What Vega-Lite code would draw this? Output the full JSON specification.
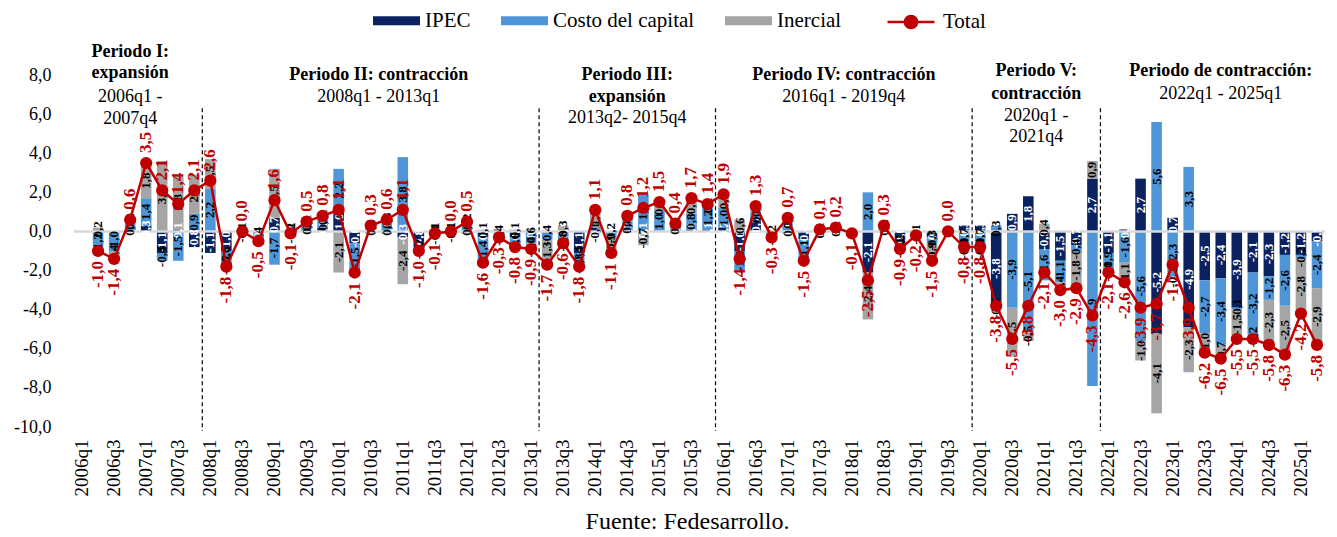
{
  "$schema": "https://vega.github.io/schema/vega-lite/v6.json",
  "width": 1251,
  "height": 352,
  "autosize": {"type": "none"},
  "padding": {"left": 74, "top": 75, "right": 12, "bottom": 110},
  "background": "white",
  "config": {
    "locale": {"number": {"decimal": ",", "thousands": ".", "grouping": [3], "currency": ["", ""], "minus": "-"}},
    "view": {"stroke": null},
    "font": "Liberation Serif",
    "axis": {"grid": false, "domain": false, "ticks": false, "labelFont": "Liberation Serif", "labelColor": "black", "title": null}
  },
  "resolve": {"axis": {"x": "independent", "y": "independent"}},
  "title": {"text": "Fuente: Fedesarrollo.", "orient": "bottom", "anchor": "middle", "font": "Liberation Serif", "fontSize": 24, "fontWeight": "normal", "color": "black", "offset": 14, "dx": -12},
  "datasets": {
    "main": [
      {"q": "2006q1", "IPEC": null, "Costo del capital": null, "Inercial": null, "Total": null},
      {"q": "2006q2", "IPEC": 0.0, "Costo del capital": -1.2, "Inercial": 0.2, "Total": -1.0},
      {"q": "2006q3", "IPEC": 0.0, "Costo del capital": -1.0, "Inercial": -0.4, "Total": -1.4},
      {"q": "2006q4", "IPEC": 0.0, "Costo del capital": 0.4, "Inercial": 0.2, "Total": 0.6},
      {"q": "2007q1", "IPEC": 0.3, "Costo del capital": 1.4, "Inercial": 1.8, "Total": 3.5},
      {"q": "2007q2", "IPEC": -1.1, "Costo del capital": -0.4, "Inercial": 3.6, "Total": 2.1},
      {"q": "2007q3", "IPEC": 0.1, "Costo del capital": -1.5, "Inercial": 2.8, "Total": 1.4},
      {"q": "2007q4", "IPEC": -0.8, "Costo del capital": 0.9, "Inercial": 2.0, "Total": 2.1},
      {"q": "2008q1", "IPEC": -1.1, "Costo del capital": 2.2, "Inercial": 1.5, "Total": 2.6},
      {"q": "2008q2", "IPEC": -1.0, "Costo del capital": -0.6, "Inercial": -0.2, "Total": -1.8},
      {"q": "2008q3", "IPEC": 0.1, "Costo del capital": -0.1, "Inercial": 0.0, "Total": 0.0},
      {"q": "2008q4", "IPEC": -0.1, "Costo del capital": -0.4, "Inercial": 0.0, "Total": -0.5},
      {"q": "2009q1", "IPEC": 0.7, "Costo del capital": -1.7, "Inercial": 2.5, "Total": 1.6},
      {"q": "2009q2", "IPEC": 0.0, "Costo del capital": 0.1, "Inercial": -0.2, "Total": -0.1},
      {"q": "2009q3", "IPEC": 0.1, "Costo del capital": 0.3, "Inercial": 0.1, "Total": 0.5},
      {"q": "2009q4", "IPEC": 0.2, "Costo del capital": 0.5, "Inercial": 0.1, "Total": 0.8},
      {"q": "2010q1", "IPEC": 1.0, "Costo del capital": 2.2, "Inercial": -2.1, "Total": 1.1},
      {"q": "2010q2", "IPEC": -0.6, "Costo del capital": -1.5, "Inercial": 0.0, "Total": -2.1},
      {"q": "2010q3", "IPEC": -0.1, "Costo del capital": 0.4, "Inercial": 0.0, "Total": 0.3},
      {"q": "2010q4", "IPEC": -0.1, "Costo del capital": 0.4, "Inercial": 0.3, "Total": 0.6},
      {"q": "2011q1", "IPEC": -0.3, "Costo del capital": 3.8, "Inercial": -2.4, "Total": 1.1},
      {"q": "2011q2", "IPEC": -0.8, "Costo del capital": -0.2, "Inercial": 0.0, "Total": -1.0},
      {"q": "2011q3", "IPEC": -0.1, "Costo del capital": 0.1, "Inercial": -0.1, "Total": -0.1},
      {"q": "2011q4", "IPEC": 0.0, "Costo del capital": 0.1, "Inercial": -0.1, "Total": 0.0},
      {"q": "2012q1", "IPEC": -0.1, "Costo del capital": 0.4, "Inercial": 0.2, "Total": 0.5},
      {"q": "2012q2", "IPEC": -0.3, "Costo del capital": -1.4, "Inercial": 0.1, "Total": -1.6},
      {"q": "2012q3", "IPEC": 0.1, "Costo del capital": -0.4, "Inercial": 0.0, "Total": -0.3},
      {"q": "2012q4", "IPEC": -0.3, "Costo del capital": -0.6, "Inercial": 0.1, "Total": -0.8},
      {"q": "2013q1", "IPEC": 0.1, "Costo del capital": -0.6, "Inercial": -0.4, "Total": -0.9},
      {"q": "2013q2", "IPEC": 0.0, "Costo del capital": -0.4, "Inercial": -1.3, "Total": -1.7},
      {"q": "2013q3", "IPEC": -0.1, "Costo del capital": -0.8, "Inercial": 0.3, "Total": -0.6},
      {"q": "2013q4", "IPEC": -1.1, "Costo del capital": -0.4, "Inercial": -0.3, "Total": -1.8},
      {"q": "2014q1", "IPEC": 0.2, "Costo del capital": -0.1, "Inercial": 1.0, "Total": 1.1},
      {"q": "2014q2", "IPEC": 0.0, "Costo del capital": -0.2, "Inercial": -0.9, "Total": -1.1},
      {"q": "2014q3", "IPEC": 0.1, "Costo del capital": 0.4, "Inercial": 0.3, "Total": 0.8},
      {"q": "2014q4", "IPEC": 0.1, "Costo del capital": 1.8, "Inercial": -0.7, "Total": 1.2},
      {"q": "2015q1", "IPEC": 0.0, "Costo del capital": 1.0, "Inercial": 0.5, "Total": 1.5},
      {"q": "2015q2", "IPEC": 0.1, "Costo del capital": 0.3, "Inercial": 0.0, "Total": 0.4},
      {"q": "2015q3", "IPEC": 0.1, "Costo del capital": 0.8, "Inercial": 0.8, "Total": 1.7},
      {"q": "2015q4", "IPEC": 0.1, "Costo del capital": 1.2, "Inercial": 0.1, "Total": 1.4},
      {"q": "2016q1", "IPEC": 0.2, "Costo del capital": 1.0, "Inercial": 0.7, "Total": 1.9},
      {"q": "2016q2", "IPEC": -1.0, "Costo del capital": -1.0, "Inercial": 0.6, "Total": -1.4},
      {"q": "2016q3", "IPEC": 0.7, "Costo del capital": 0.3, "Inercial": 0.3, "Total": 1.3},
      {"q": "2016q4", "IPEC": -0.1, "Costo del capital": -0.2, "Inercial": 0.0, "Total": -0.3},
      {"q": "2017q1", "IPEC": -0.1, "Costo del capital": 0.3, "Inercial": 0.5, "Total": 0.7},
      {"q": "2017q2", "IPEC": -0.4, "Costo del capital": -1.1, "Inercial": 0.0, "Total": -1.5},
      {"q": "2017q3", "IPEC": 0.0, "Costo del capital": 0.1, "Inercial": 0.0, "Total": 0.1},
      {"q": "2017q4", "IPEC": 0.1, "Costo del capital": 0.1, "Inercial": 0.0, "Total": 0.2},
      {"q": "2018q1", "IPEC": -0.1, "Costo del capital": 0.0, "Inercial": 0.0, "Total": -0.1},
      {"q": "2018q2", "IPEC": -2.1, "Costo del capital": 2.0, "Inercial": -2.4, "Total": -2.5},
      {"q": "2018q3", "IPEC": 0.1, "Costo del capital": 0.2, "Inercial": 0.0, "Total": 0.3},
      {"q": "2018q4", "IPEC": -0.6, "Costo del capital": -0.2, "Inercial": -0.1, "Total": -0.9},
      {"q": "2019q1", "IPEC": -0.1, "Costo del capital": -0.1, "Inercial": 0.0, "Total": -0.2},
      {"q": "2019q2", "IPEC": -0.3, "Costo del capital": -0.3, "Inercial": -0.9, "Total": -1.5},
      {"q": "2019q3", "IPEC": 0.0, "Costo del capital": 0.0, "Inercial": 0.0, "Total": 0.0},
      {"q": "2019q4", "IPEC": 0.3, "Costo del capital": -0.7, "Inercial": -0.4, "Total": -0.8},
      {"q": "2020q1", "IPEC": 0.3, "Costo del capital": -0.7, "Inercial": -0.4, "Total": -0.8},
      {"q": "2020q2", "IPEC": -3.8, "Costo del capital": 0.3, "Inercial": -0.3, "Total": -3.8},
      {"q": "2020q3", "IPEC": 0.9, "Costo del capital": -3.9, "Inercial": -2.5, "Total": -5.5},
      {"q": "2020q4", "IPEC": 1.8, "Costo del capital": -5.1, "Inercial": -0.5, "Total": -3.8},
      {"q": "2021q1", "IPEC": -0.9, "Costo del capital": -1.6, "Inercial": 0.4, "Total": -2.1},
      {"q": "2021q2", "IPEC": -1.5, "Costo del capital": -1.1, "Inercial": -0.4, "Total": -3.0},
      {"q": "2021q3", "IPEC": -0.7, "Costo del capital": -0.4, "Inercial": -1.8, "Total": -2.9},
      {"q": "2021q4", "IPEC": 2.7, "Costo del capital": -7.9, "Inercial": 0.9, "Total": -4.3},
      {"q": "2022q1", "IPEC": -1.1, "Costo del capital": -0.9, "Inercial": -0.1, "Total": -2.1},
      {"q": "2022q2", "IPEC": 0.1, "Costo del capital": -1.6, "Inercial": -1.1, "Total": -2.6},
      {"q": "2022q3", "IPEC": 2.7, "Costo del capital": -5.6, "Inercial": -1.0, "Total": -3.9},
      {"q": "2022q4", "IPEC": -5.2, "Costo del capital": 5.6, "Inercial": -4.1, "Total": -3.7},
      {"q": "2023q1", "IPEC": 0.7, "Costo del capital": -2.3, "Inercial": -0.1, "Total": -1.7},
      {"q": "2023q2", "IPEC": -4.9, "Costo del capital": 3.3, "Inercial": -2.3, "Total": -3.9},
      {"q": "2023q3", "IPEC": -2.5, "Costo del capital": -2.7, "Inercial": -1.0, "Total": -6.2},
      {"q": "2023q4", "IPEC": -2.4, "Costo del capital": -3.4, "Inercial": -0.7, "Total": -6.5},
      {"q": "2024q1", "IPEC": -3.9, "Costo del capital": -0.1, "Inercial": -1.5, "Total": -5.5},
      {"q": "2024q2", "IPEC": -2.1, "Costo del capital": -3.2, "Inercial": -0.2, "Total": -5.5},
      {"q": "2024q3", "IPEC": -2.3, "Costo del capital": -1.2, "Inercial": -2.3, "Total": -5.8},
      {"q": "2024q4", "IPEC": -1.2, "Costo del capital": -2.6, "Inercial": -2.5, "Total": -6.3},
      {"q": "2025q1", "IPEC": -1.2, "Costo del capital": -0.2, "Inercial": -2.8, "Total": -4.2},
      {"q": "2025q2", "IPEC": -0.5, "Costo del capital": -2.4, "Inercial": -2.9, "Total": -5.8}
    ],
    "limites": [{"q": "2008q1"}, {"q": "2013q2"}, {"q": "2016q1"}, {"q": "2020q1"}, {"q": "2022q1"}],
    "titulos_c": [
      {"q": "2006q4", "y": 9.18, "texto": "Periodo I:"},
      {"q": "2006q4", "y": 8.1, "texto": "expansión"},
      {"q": "2014q3", "y": 8.0, "texto": "Periodo III:"},
      {"q": "2014q3", "y": 6.87, "texto": "expansión"},
      {"q": "2023q4", "y": 8.2, "texto": "Periodo de contracción:"}
    ],
    "titulos_b": [
      {"q": "2010q3", "y": 8.0, "texto": "Periodo II: contracción"},
      {"q": "2017q4", "y": 8.0, "texto": "Periodo IV: contracción"},
      {"q": "2020q4", "y": 8.2, "texto": "Periodo V:"},
      {"q": "2020q4", "y": 7.02, "texto": "contracción"}
    ],
    "fechas_c": [
      {"q": "2006q4", "y": 6.87, "texto": "2006q1 -"},
      {"q": "2006q4", "y": 5.76, "texto": "2007q4"},
      {"q": "2014q3", "y": 5.8, "texto": "2013q2- 2015q4"},
      {"q": "2023q4", "y": 7.02, "texto": "2022q1 - 2025q1"}
    ],
    "fechas_b": [
      {"q": "2010q3", "y": 6.87, "texto": "2008q1 - 2013q1"},
      {"q": "2017q4", "y": 6.87, "texto": "2016q1 - 2019q4"},
      {"q": "2020q4", "y": 5.9, "texto": "2020q1 -"},
      {"q": "2020q4", "y": 4.83, "texto": "2021q4"}
    ]
  },
  "layer": [
    {
      "data": {"name": "main"},
      "transform": [
        {"fold": ["IPEC", "Costo del capital", "Inercial"], "as": ["serie", "valor"]},
        {"calculate": "indexof(['IPEC','Costo del capital','Inercial'], datum.serie)", "as": "ord"},
        {"stack": "valor", "groupby": ["q"], "sort": [{"field": "ord", "order": "ascending"}], "as": ["v0", "v1"]}
      ],
      "mark": {"type": "bar"},
      "encoding": {
        "x": {
          "field": "q", "type": "ordinal",
          "scale": {"paddingInner": 0.34, "paddingOuter": 0.17},
          "axis": {"labelAngle": -90, "labelFontSize": 19, "labelPadding": 12, "labelOverlap": false, "labelExpr": "slice(datum.value, -1) == '1' || slice(datum.value, -1) == '3' ? datum.value : ''"}
        },
        "y": {
          "field": "v0", "type": "quantitative",
          "scale": {"domain": [-10, 8], "nice": false, "zero": false},
          "axis": {"values": [-10, -8, -6, -4, -2, 0, 2, 4, 6, 8], "format": ".1f", "labelFontSize": 18, "labelPadding": 23, "labelOverlap": false, "labelBound": false, "labelFlush": false}
        },
        "y2": {"field": "v1"},
        "fill": {
          "field": "serie", "type": "nominal",
          "scale": {"domain": ["IPEC", "Costo del capital", "Inercial"], "range": ["#0b2260", "#4f96d9", "#a5a5a5"]},
          "legend": {"orient": "none", "legendX": 299, "legendY": -78, "direction": "horizontal", "title": null, "symbolType": "M-1,-0.19H1V0.19H-1Z", "symbolSize": 2209, "symbolStrokeWidth": 0, "labelFont": "Liberation Serif", "labelFontSize": 21, "labelColor": "black", "labelOffset": 5, "columnPadding": 30}
        }
      }
    },
    {
      "data": {"name": "limites"},
      "mark": {"type": "rule", "color": "black", "strokeDash": [4, 3], "strokeWidth": 1.2},
      "encoding": {
        "x": {"field": "q", "type": "ordinal", "bandPosition": -0.26, "axis": null},
        "y": {"datum": 6.3, "type": "quantitative", "scale": {"domain": [-10, 8], "nice": false, "zero": false}, "axis": null},
        "y2": {"datum": -10.2}
      }
    },
    {
      "data": {"values": [{}]},
      "mark": {"type": "rule", "color": "#d9d9d9", "strokeWidth": 2.5},
      "encoding": {
        "y": {"datum": 0, "type": "quantitative", "scale": {"domain": [-10, 8], "nice": false, "zero": false}, "axis": null}
      }
    },
    {
      "data": {"name": "main"},
      "transform": [
        {"fold": ["IPEC", "Costo del capital", "Inercial"], "as": ["serie", "valor"]},
        {"calculate": "indexof(['IPEC','Costo del capital','Inercial'], datum.serie)", "as": "ord"},
        {"stack": "valor", "groupby": ["q"], "sort": [{"field": "ord", "order": "ascending"}], "as": ["v0", "v1"]},
        {"filter": "isValid(datum.valor) && datum.valor != 0"},
        {"calculate": "(datum.v0 + datum.v1) / 2", "as": "medio"}
      ],
      "mark": {"type": "text", "angle": 270, "align": "center", "baseline": "middle", "font": "Liberation Serif", "fontSize": 13, "fontWeight": "bold"},
      "encoding": {
        "x": {"field": "q", "type": "ordinal", "axis": null},
        "y": {"field": "medio", "type": "quantitative", "scale": {"domain": [-10, 8], "nice": false, "zero": false}, "axis": null},
        "text": {"field": "valor", "type": "quantitative", "format": ".1f"},
        "color": {"condition": {"test": "datum.serie === 'IPEC'", "value": "white"}, "value": "black"}
      }
    },
    {
      "data": {"name": "main"},
      "transform": [{"filter": "isValid(datum.Total)"}],
      "mark": {"type": "line", "strokeWidth": 2.5},
      "encoding": {
        "x": {"field": "q", "type": "ordinal", "axis": null},
        "y": {"field": "Total", "type": "quantitative", "scale": {"domain": [-10, 8], "nice": false, "zero": false}, "axis": null},
        "stroke": {
          "datum": "Total", "type": "nominal",
          "scale": {"range": ["#c00000"]},
          "legend": {"orient": "none", "legendX": 812, "legendY": -78, "title": null, "symbolType": "M-1,0H1M-0.26,0A0.26,0.26,0,1,1,0.26,0A0.26,0.26,0,1,1,-0.26,0Z", "symbolSize": 2209, "symbolStrokeWidth": 2.5, "symbolFillColor": "#c00000", "labelFont": "Liberation Serif", "labelFontSize": 21, "labelColor": "black", "labelOffset": 7}
        }
      }
    },
    {
      "data": {"name": "main"},
      "transform": [{"filter": "isValid(datum.Total)"}],
      "mark": {"type": "point", "filled": true, "size": 150, "color": "#c00000", "opacity": 1},
      "encoding": {
        "x": {"field": "q", "type": "ordinal", "axis": null},
        "y": {"field": "Total", "type": "quantitative", "scale": {"domain": [-10, 8], "nice": false, "zero": false}, "axis": null}
      }
    },
    {
      "data": {"name": "main"},
      "transform": [{"filter": "isValid(datum.Total) && datum.Total >= 0"}],
      "mark": {"type": "text", "angle": 270, "align": "left", "baseline": "middle", "dx": 10, "font": "Liberation Serif", "fontSize": 17, "fontWeight": "bold", "color": "#c00000"},
      "encoding": {
        "x": {"field": "q", "type": "ordinal", "axis": null},
        "y": {"field": "Total", "type": "quantitative", "scale": {"domain": [-10, 8], "nice": false, "zero": false}, "axis": null},
        "text": {"field": "Total", "type": "quantitative", "format": ".1f"}
      }
    },
    {
      "data": {"name": "main"},
      "transform": [{"filter": "isValid(datum.Total) && datum.Total < 0"}],
      "mark": {"type": "text", "angle": 270, "align": "right", "baseline": "middle", "dx": -10, "font": "Liberation Serif", "fontSize": 17, "fontWeight": "bold", "color": "#c00000"},
      "encoding": {
        "x": {"field": "q", "type": "ordinal", "axis": null},
        "y": {"field": "Total", "type": "quantitative", "scale": {"domain": [-10, 8], "nice": false, "zero": false}, "axis": null},
        "text": {"field": "Total", "type": "quantitative", "format": ".1f"}
      }
    },
    {
      "data": {"name": "titulos_c"},
      "mark": {"type": "text", "align": "center", "baseline": "middle", "font": "Liberation Serif", "fontSize": 18, "fontWeight": "bold", "color": "black"},
      "encoding": {
        "x": {"field": "q", "type": "ordinal", "axis": null},
        "y": {"field": "y", "type": "quantitative", "scale": {"domain": [-10, 8], "nice": false, "zero": false}, "axis": null},
        "text": {"field": "texto"}
      }
    },
    {
      "data": {"name": "titulos_b"},
      "mark": {"type": "text", "align": "center", "baseline": "middle", "font": "Liberation Serif", "fontSize": 18, "fontWeight": "bold", "color": "black"},
      "encoding": {
        "x": {"field": "q", "type": "ordinal", "bandPosition": 1.257, "axis": null},
        "y": {"field": "y", "type": "quantitative", "scale": {"domain": [-10, 8], "nice": false, "zero": false}, "axis": null},
        "text": {"field": "texto"}
      }
    },
    {
      "data": {"name": "fechas_c"},
      "mark": {"type": "text", "align": "center", "baseline": "middle", "font": "Liberation Serif", "fontSize": 18, "fontWeight": "normal", "color": "black"},
      "encoding": {
        "x": {"field": "q", "type": "ordinal", "axis": null},
        "y": {"field": "y", "type": "quantitative", "scale": {"domain": [-10, 8], "nice": false, "zero": false}, "axis": null},
        "text": {"field": "texto"}
      }
    },
    {
      "data": {"name": "fechas_b"},
      "mark": {"type": "text", "align": "center", "baseline": "middle", "font": "Liberation Serif", "fontSize": 18, "fontWeight": "normal", "color": "black"},
      "encoding": {
        "x": {"field": "q", "type": "ordinal", "bandPosition": 1.257, "axis": null},
        "y": {"field": "y", "type": "quantitative", "scale": {"domain": [-10, 8], "nice": false, "zero": false}, "axis": null},
        "text": {"field": "texto"}
      }
    }
  ]
}
